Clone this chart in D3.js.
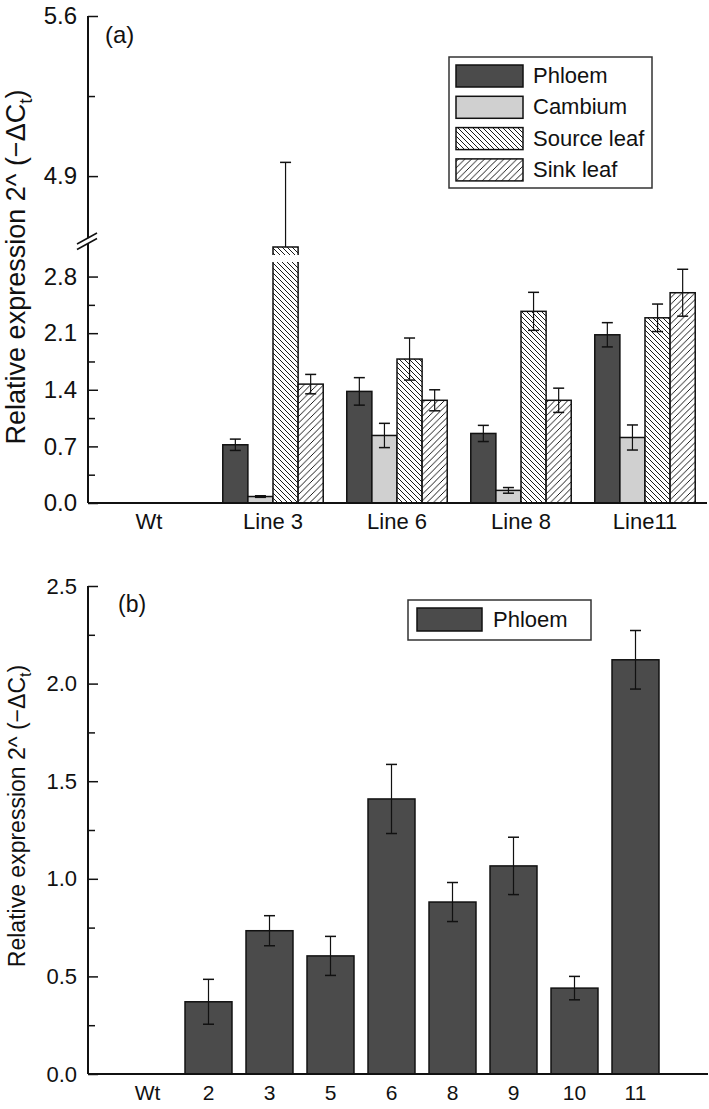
<!DOCTYPE html>
<html><head><meta charset="utf-8">
<script src="https://cdn.jsdelivr.net/npm/d3@7"></script>
<style>body{margin:0;background:#fff}svg{display:block;font-family:"Liberation Sans",Arial,sans-serif}</style>
</head><body><svg id="c" width="709" height="1109"></svg>
<script>
// ---------- data ----------
const catsA = ["Wt", "Line 3", "Line 6", "Line 8", "Line11"];
const seriesA = ["Phloem", "Cambium", "Source leaf", "Sink leaf"];
const phloemA = [0, 0.72, 1.38, 0.86, 2.08];
const phloemErrA = [0, 0.07, 0.17, 0.10, 0.15];
const cambiumA = [0, 0.08, 0.835, 0.156, 0.81];
const cambiumErrA = [0, 0.01, 0.15, 0.035, 0.155];
const sourceA = [0, 4.59, 1.78, 2.37, 2.29];
const sourceErrA = [0, 0.37, 0.26, 0.235, 0.17];
const sinkA = [0, 1.47, 1.27, 1.27, 2.60];
const sinkErrA = [0, 0.12, 0.13, 0.15, 0.29];
const ticksALow = [0.0, 0.7, 1.4, 2.1, 2.8];
const ticksAHigh = [4.9, 5.6];
const catsB = ["Wt", "2", "3", "5", "6", "8", "9", "10", "11"];
const phloemB = [0, 0.37, 0.734, 0.605, 1.409, 0.881, 1.066, 0.44, 2.122];
const phloemErrB = [0, 0.115, 0.077, 0.10, 0.177, 0.10, 0.147, 0.06, 0.15];
const ticksB = [0.0, 0.5, 1.0, 1.5, 2.0, 2.5];

const svg = d3.select("#c");
const FONT = '"Liberation Sans", Arial, sans-serif';

// ---------- patterns ----------
const defs = svg.append("defs");
function hatch(id, s, dir) {
  const p = defs.append("pattern").attr("id", id).attr("patternUnits", "userSpaceOnUse")
    .attr("width", s).attr("height", s);
  p.append("rect").attr("width", s).attr("height", s).attr("fill", "#fff");
  const d = dir === "back"
    ? `M-1,-1 L${s+1},${s+1} M${-s/2},${s/2} L${s/2},${1.5*s} M${s/2},${-s/2} L${1.5*s},${s/2}`
    : `M-1,${s+1} L${s+1},-1 M${-s/2},${s/2} L${s/2},${-s/2} M${s/2},${1.5*s} L${1.5*s},${s/2}`;
  p.append("path").attr("d", d).attr("stroke", "#000").attr("stroke-width", 0.9).attr("fill", "none");
}
hatch("hSource", 5, "back");
hatch("hSink", 6.5, "fwd");
const fills = ["#4b4b4b", "#d0d0d0", "url(#hSource)", "url(#hSink)"];

// ---------- panel A ----------
const aX0 = 88, aBase = 503, aRight = 707;
const breakLo = 2.98, breakHi = 4.555;
const yLo = d3.scaleLinear().domain([0, breakLo]).range([aBase, 262]);
const yHi = d3.scaleLinear().domain([breakHi, 5.6]).range([255, 16]);
const yA = v => v <= breakLo ? yLo(v) : yHi(v);

const xA = d3.scaleBand().domain(catsA).range([87, aRight]).paddingInner(0.19).paddingOuter(0.095);
const xAs = d3.scaleBand().domain(seriesA).range([0, xA.bandwidth()]).padding(0);

const gA = svg.append("g");
const valsA = [phloemA, cambiumA, sourceA, sinkA];
const errsA = [phloemErrA, cambiumErrA, sourceErrA, sinkErrA];
const barsA = [];
seriesA.forEach((s, si) => catsA.forEach((c, ci) => {
  barsA.push({s, si, c, v: valsA[si][ci], e: errsA[si][ci]});
}));
const nz = barsA.filter(d => d.v > 0);
gA.selectAll("rect.bar").data(nz).join("rect")
  .attr("x", d => xA(d.c) + xAs(d.s))
  .attr("y", d => yA(d.v))
  .attr("width", xAs.bandwidth())
  .attr("height", d => aBase - yA(d.v))
  .attr("fill", d => fills[d.si]).attr("stroke", "#111").attr("stroke-width", 1.5);
// bar break gap
gA.selectAll("rect.gap").data(nz.filter(d => d.v > breakLo)).join("rect")
  .attr("x", d => xA(d.c) + xAs(d.s) - 2).attr("width", xAs.bandwidth() + 4)
  .attr("y", yHi(breakHi)).attr("height", yLo(breakLo) - yHi(breakHi)).attr("fill", "#fff");

function errBars(g, data, xf, yf, broken) {
  const cw = 5.5;
  data.forEach(d => {
    const cx = xf(d);
    const top = yf(d.v + d.e);
    const bot = broken(d) ? yf(d.v) : yf(d.v - d.e);
    g.append("line").attr("x1", cx).attr("x2", cx).attr("y1", top).attr("y2", bot)
      .attr("stroke", "#111").attr("stroke-width", 1.2);
    g.append("line").attr("x1", cx - cw).attr("x2", cx + cw).attr("y1", top).attr("y2", top)
      .attr("stroke", "#111").attr("stroke-width", 1.5);
    if (!broken(d)) g.append("line").attr("x1", cx - cw).attr("x2", cx + cw).attr("y1", bot).attr("y2", bot)
      .attr("stroke", "#111").attr("stroke-width", 1.5);
  });
}
errBars(gA, nz, d => xA(d.c) + xAs(d.s) + xAs.bandwidth() / 2, yA, d => d.v > breakLo);

// axes A
function styleAxis(size) {
  return g => {
    g.select(".domain").remove();
    g.selectAll(".tick line").attr("stroke", "#111").attr("stroke-width", 1.5);
    g.selectAll(".tick text").attr("font-family", FONT).attr("font-size", size).attr("fill", "#111");
  };
}
const minorLo = d3.range(0.35, breakLo, 0.7);
gA.append("g").attr("transform", `translate(${aX0},0)`)
  .call(d3.axisLeft(yLo).tickValues(ticksALow).tickFormat(d3.format(".1f")).tickSizeInner(-10).tickSizeOuter(0).tickPadding(11))
  .call(styleAxis(24));
gA.append("g").attr("transform", `translate(${aX0},0)`)
  .call(d3.axisLeft(yHi).tickValues(ticksAHigh).tickFormat(d3.format(".1f")).tickSizeInner(-10).tickSizeOuter(0).tickPadding(11))
  .call(styleAxis(24));
gA.append("g").attr("transform", `translate(${aX0},0)`)
  .call(d3.axisLeft(yLo).tickValues(minorLo).tickFormat("").tickSizeInner(-7).tickSizeOuter(0))
  .call(styleAxis(24));
gA.append("g").attr("transform", `translate(${aX0},0)`)
  .call(d3.axisLeft(yHi).tickValues([5.25]).tickFormat("").tickSizeInner(-7).tickSizeOuter(0))
  .call(styleAxis(24));
// y axis line with break marks
gA.append("line").attr("x1", aX0).attr("x2", aX0).attr("y1", yHi(5.6)).attr("y2", aBase)
  .attr("stroke", "#111").attr("stroke-width", 2);
const bm = 244;
gA.append("polygon").attr("points", `${aX0-10},${bm+5} ${aX0+10},${bm-6} ${aX0+10},${bm-11} ${aX0-10},${bm}`)
  .attr("fill", "#fff");
gA.append("line").attr("x1", aX0 - 11).attr("y1", bm + 5.5).attr("x2", aX0 + 9).attr("y2", bm - 5.5).attr("stroke", "#111").attr("stroke-width", 1.5);
gA.append("line").attr("x1", aX0 - 11).attr("y1", bm).attr("x2", aX0 + 9).attr("y2", bm - 11).attr("stroke", "#111").attr("stroke-width", 1.5);
// x axis A
gA.append("line").attr("x1", aX0).attr("x2", aRight).attr("y1", aBase).attr("y2", aBase)
  .attr("stroke", "#111").attr("stroke-width", 2);
gA.append("g").attr("transform", `translate(0,${aBase})`)
  .call(d3.axisBottom(xA).tickSize(0).tickPadding(10))
  .call(g => { g.select(".domain").remove(); g.selectAll("text").attr("font-family", FONT).attr("font-size", 22).attr("fill", "#111"); });

function yTitle(g, x, y, size) {
  const t = g.append("text").attr("transform", `translate(${x},${y}) rotate(-90)`)
    .attr("text-anchor", "middle").attr("font-family", FONT).attr("font-size", size).attr("fill", "#111");
  t.append("tspan").text("Relative expression 2^ (\u2212\u0394C");
  t.append("tspan").attr("font-size", size * 0.7).attr("dy", size * 0.25).text("t");
  t.append("tspan").attr("dy", -size * 0.25).text(")");
}
yTitle(gA, 25, 267, 27);
gA.append("text").attr("x", 105).attr("y", 43).attr("font-family", FONT).attr("font-size", 24).attr("fill", "#111").text("(a)");

// legend A
const lgA = gA.append("g");
lgA.append("rect").attr("x", 449).attr("y", 57).attr("width", 203).attr("height", 131)
  .attr("fill", "#fff").attr("stroke", "#333").attr("stroke-width", 1.5);
seriesA.forEach((s, i) => {
  const yy = 65 + i * 31.3;
  lgA.append("rect").attr("x", 456).attr("y", yy).attr("width", 67).attr("height", 22)
    .attr("fill", fills[i]).attr("stroke", "#111").attr("stroke-width", 1.5);
  lgA.append("text").attr("x", 533).attr("y", yy + 18).attr("font-family", FONT).attr("font-size", 22).attr("fill", "#111").text(s);
});

// ---------- panel B ----------
const bBase = 1074, bTop = 586;
const yB = d3.scaleLinear().domain([0, 2.5]).range([bBase, bTop]);
const xB = d3.scaleBand().domain(catsB).range([117, 666]).paddingInner(0.23).paddingOuter(0.115);
const gB = svg.append("g");
const barsB = catsB.map((c, i) => ({c, v: phloemB[i], e: phloemErrB[i]})).filter(d => d.v > 0);
gB.selectAll("rect").data(barsB).join("rect")
  .attr("x", d => xB(d.c)).attr("y", d => yB(d.v)).attr("width", xB.bandwidth())
  .attr("height", d => bBase - yB(d.v)).attr("fill", fills[0]).attr("stroke", "#111").attr("stroke-width", 1.5);
errBars(gB, barsB, d => xB(d.c) + xB.bandwidth() / 2, yB, () => false);
gB.append("g").attr("transform", `translate(${aX0},0)`)
  .call(d3.axisLeft(yB).tickValues(ticksB).tickFormat(d3.format(".1f")).tickSizeInner(-10).tickSizeOuter(0).tickPadding(11))
  .call(styleAxis(22));
gB.append("g").attr("transform", `translate(${aX0},0)`)
  .call(d3.axisLeft(yB).tickValues(d3.range(0.25, 2.5, 0.5)).tickFormat("").tickSizeInner(-7).tickSizeOuter(0))
  .call(styleAxis(22));
gB.append("line").attr("x1", aX0).attr("x2", aX0).attr("y1", bTop).attr("y2", bBase)
  .attr("stroke", "#111").attr("stroke-width", 2);
gB.append("line").attr("x1", aX0).attr("x2", 708).attr("y1", bBase).attr("y2", bBase)
  .attr("stroke", "#111").attr("stroke-width", 2);
gB.append("g").attr("transform", `translate(0,${bBase})`)
  .call(d3.axisBottom(xB).tickSize(0).tickPadding(11))
  .call(g => { g.select(".domain").remove(); g.selectAll("text").attr("font-family", FONT).attr("font-size", 21).attr("fill", "#111"); });
yTitle(gB, 25, 816, 23);
gB.append("text").attr("x", 118).attr("y", 612).attr("font-family", FONT).attr("font-size", 23).attr("fill", "#111").text("(b)");
const lgB = gB.append("g");
lgB.append("rect").attr("x", 408).attr("y", 600).attr("width", 183).attr("height", 40)
  .attr("fill", "#fff").attr("stroke", "#333").attr("stroke-width", 1.5);
lgB.append("rect").attr("x", 417).attr("y", 608).attr("width", 65).attr("height", 23)
  .attr("fill", fills[0]).attr("stroke", "#111").attr("stroke-width", 1.5);
lgB.append("text").attr("x", 493).attr("y", 627).attr("font-family", FONT).attr("font-size", 22).attr("fill", "#111").text("Phloem");
</script></body></html>
